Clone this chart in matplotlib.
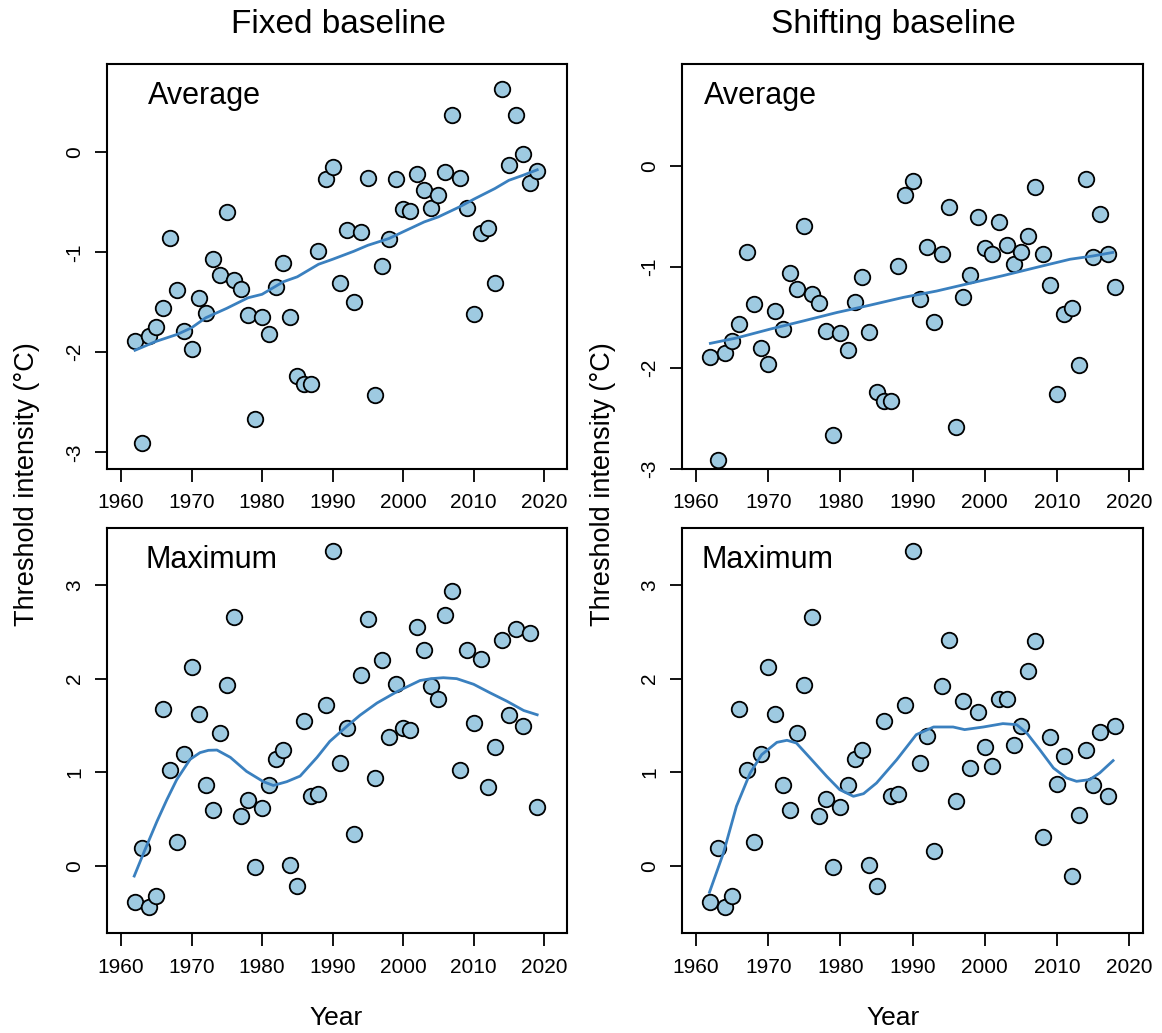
import matplotlib
matplotlib.use("Agg")
import matplotlib.pyplot as plt
import numpy as np

plt.rcParams['font.family'] = ['Liberation Sans', 'DejaVu Sans']

# ---------------- data ----------------
years_fixed = list(range(1962, 2020))      # 1962..2019
years_shift = list(range(1962, 2019))      # 1962..2018

avg_fixed = [-1.89, -2.91, -1.84, -1.75, -1.555, -0.86, -1.38, -1.79, -1.97, -1.455,
             -1.61, -1.07, -1.23, -0.60, -1.28, -1.37, -1.63, -2.67, -1.645, -1.82,
             -1.345, -1.105, -1.645, -2.235, -2.32, -2.32, -0.985, -0.27, -0.15, -1.31,
             -0.78, -1.50, -0.80, -0.256, -2.43, -1.14, -0.87, -0.27, -0.57, -0.586,
             -0.22, -0.38, -0.553, -0.43, -0.20, 0.37, -0.256, -0.553, -1.62, -0.81,
             -0.756, -1.31, 0.63, -0.13, 0.37, -0.013, -0.31, -0.186]

avg_shift = [-1.894, -2.915, -1.854, -1.734, -1.561, -0.852, -1.368, -1.804, -1.96, -1.438,
             -1.61, -1.06, -1.218, -0.592, -1.268, -1.354, -1.634, -2.669, -1.65, -1.824,
             -1.351, -1.095, -1.647, -2.236, -2.326, -2.326, -0.988, -0.28, -0.14, -1.318,
             -0.802, -1.544, -0.869, -0.403, -2.586, -1.301, -1.078, -0.506, -0.812, -0.872,
             -0.552, -0.779, -0.972, -0.852, -0.696, -0.206, -0.869, -1.178, -2.26, -1.461,
             -1.404, -1.977, -0.123, -0.902, -0.469, -0.869, -1.195]

max_fixed = [-0.384, 0.192, -0.441, -0.324, 1.676, 1.028, 0.253, 1.196, 2.121, 1.623,
             0.861, 0.601, 1.42, 1.936, 2.658, 0.53, 0.708, -0.011, 0.619, 0.868,
             1.142, 1.235, 0.007, -0.217, 1.544, 0.751, 0.772, 1.715, 3.359, 1.10,
             1.473, 0.345, 2.043, 2.637, 0.936, 2.196, 1.377, 1.943, 1.473, 1.456,
             2.548, 2.31, 1.918, 1.786, 2.676, 2.94, 1.028, 2.31, 1.527, 2.214,
             0.843, 1.267, 2.416, 1.609, 2.53, 1.491, 2.488, 0.626]

max_shift = [-0.381, 0.192, -0.441, -0.324, 1.676, 1.028, 0.253, 1.196, 2.121, 1.623,
             0.861, 0.601, 1.42, 1.936, 2.658, 0.53, 0.719, -0.011, 0.626, 0.861,
             1.142, 1.235, 0.007, -0.217, 1.544, 0.751, 0.772, 1.715, 3.359, 1.10,
             1.384, 0.157, 1.918, 2.416, 0.698, 1.765, 1.046, 1.641, 1.267, 1.064,
             1.786, 1.786, 1.288, 1.491, 2.085, 2.399, 0.306, 1.377, 0.879, 1.178,
             -0.103, 0.548, 1.235, 0.861, 1.431, 0.751, 1.491]

# smoothed trend lines
trend_avg_fixed_x = [1961.8, 1965, 1968, 1970, 1972, 1975, 1978, 1980, 1983, 1985, 1988,
                     1990, 1993, 1995, 1998, 2000, 2003, 2005, 2008, 2010, 2013, 2015,
                     2017, 2019.2]
trend_avg_fixed_y = [-1.985, -1.89, -1.82, -1.755, -1.655, -1.56, -1.455, -1.42, -1.295,
                     -1.245, -1.12, -1.07, -0.99, -0.93, -0.862, -0.795, -0.696, -0.646,
                     -0.546, -0.47, -0.363, -0.28, -0.23, -0.17]

trend_avg_shift_x = [1961.8, 1965.6, 1970.2, 1974.9, 1979.5, 1984.1, 1988.7, 1993.3,
                     1997.9, 2002.5, 2007.2, 2011.8, 2015.0, 2017.9]
trend_avg_shift_y = [-1.76, -1.704, -1.617, -1.534, -1.451, -1.378, -1.301, -1.238,
                     -1.161, -1.085, -1.002, -0.922, -0.889, -0.852]

trend_max_fixed_x = [1961.8, 1963.4, 1965.1, 1966.5, 1967.9, 1969.8, 1971.2, 1972.4,
                     1973.6, 1975.5, 1977.8, 1980.2, 1981.6, 1983.5, 1985.4, 1987.8,
                     1989.6, 1992.0, 1993.9, 1996.3, 1999.1, 2002.4, 2004.0, 2005.7,
                     2007.6, 2010.0, 2012.3, 2014.7, 2017.1, 2019.2]
trend_max_fixed_y = [-0.121, 0.174, 0.477, 0.708, 0.922, 1.139, 1.21, 1.235, 1.238,
                     1.16, 1.01, 0.90, 0.86, 0.90, 0.96, 1.16, 1.33, 1.49, 1.61, 1.74,
                     1.86, 1.98, 2.00, 2.01, 2.00, 1.94, 1.85, 1.76, 1.66, 1.61]

trend_max_shift_x = [1961.8, 1963.8, 1965.6, 1967.5, 1969.1, 1971.2, 1972.6, 1973.9,
                     1975.8, 1978.1, 1979.9, 1981.8, 1983.2, 1985.0, 1987.8, 1990.5,
                     1992.9, 1995.6, 1997.2, 1999.8, 2002.5, 2004.4, 2005.8, 2007.6,
                     2009.5, 2011.3, 2012.7, 2014.5, 2015.9, 2017.9]
trend_max_shift_y = [-0.295, 0.139, 0.637, 0.993, 1.189, 1.320, 1.342, 1.313, 1.153,
                     0.957, 0.815, 0.744, 0.772, 0.886, 1.135, 1.402, 1.484, 1.484,
                     1.456, 1.484, 1.520, 1.509, 1.420, 1.242, 1.046, 0.940, 0.904,
                     0.922, 0.993, 1.135]

x_ticks = [1960, 1970, 1980, 1990, 2000, 2010, 2020]
y_ticks_avg = [-3, -2, -1, 0]
y_ticks_max = [0, 1, 2, 3]

col_titles = ["Fixed baseline", "Shifting baseline"]
row_labels = ["Average", "Maximum"]
ylabel = "Threshold intensity (\u00b0C)"
xlabel = "Year"

# ---------------- figure ----------------
W, H = 1162, 1033
fig = plt.figure(figsize=(W / 100, H / 100), dpi=100)

def px_axes(l, t, r, b):
    return fig.add_axes([l / W, 1 - b / H, (r - l) / W, (b - t) / H])

POINT_FC = "#9ecae1"
LINE_C = "#3a80bf"

panels = [
    ((106.7, 64.0, 566.7, 468.5), (1957.97, 2023.2), (-3.162, 0.883),
     years_fixed, avg_fixed, trend_avg_fixed_x, trend_avg_fixed_y, y_ticks_avg),
    ((681.7, 64.0, 1143.0, 468.5), (1958.02, 2021.9), (-2.986, 1.017),
     years_shift, avg_shift, trend_avg_shift_x, trend_avg_shift_y, y_ticks_avg),
    ((106.7, 528.3, 566.7, 932.7), (1957.97, 2023.2), (-0.712, 3.605),
     years_fixed, max_fixed, trend_max_fixed_x, trend_max_fixed_y, y_ticks_max),
    ((681.7, 528.3, 1143.0, 932.7), (1958.02, 2021.9), (-0.712, 3.605),
     years_shift, max_shift, trend_max_shift_x, trend_max_shift_y, y_ticks_max),
]

for box, xl, yl, xs, ys, tx, ty, yt in panels:
    ax = px_axes(*box)
    ax.scatter(xs, ys, s=125, facecolor=POINT_FC, edgecolor="black",
               linewidth=1.3, zorder=2)
    ax.plot(tx, ty, color=LINE_C, lw=2.0, zorder=3, solid_joinstyle="round",
            solid_capstyle="butt")
    ax.set_xlim(*xl)
    ax.set_ylim(*yl)
    ax.set_xticks(x_ticks)
    ax.set_yticks(yt)
    ax.set_yticklabels([str(v) for v in yt], rotation=90, va="center")
    for sp in ax.spines.values():
        sp.set_linewidth(1.5)
        sp.set_color("black")
    ax.tick_params(axis="both", length=9, width=1.3, labelsize=15,
                   colors="black")
    ax.tick_params(axis="x", pad=9)
    ax.tick_params(axis="y", pad=7)

# row labels inside panels
fig.text(148.3 / W, 1 - 104.3 / H, row_labels[0], fontsize=22, va="baseline", ha="left")
fig.text(704.3 / W, 1 - 104.3 / H, row_labels[0], fontsize=22, va="baseline", ha="left")
fig.text(146.0 / W, 1 - 568.3 / H, row_labels[1], fontsize=22, va="baseline", ha="left")
fig.text(701.7 / W, 1 - 568.3 / H, row_labels[1], fontsize=22, va="baseline", ha="left")

# column titles
fig.text(338 / W, 1 - 24.7 / H, col_titles[0], fontsize=24, ha="center", va="center")
fig.text(893 / W, 1 - 24.7 / H, col_titles[1], fontsize=24, ha="center", va="center")

# y labels
fig.text(27 / W, 1 - 484 / H, ylabel, fontsize=19.5, rotation=90, ha="center", va="center")
fig.text(603 / W, 1 - 484 / H, ylabel, fontsize=19.5, rotation=90, ha="center", va="center")

# x labels
fig.text(336 / W, 1 - 1017.7 / H, xlabel, fontsize=19, ha="center", va="center")
fig.text(893 / W, 1 - 1017.7 / H, xlabel, fontsize=19, ha="center", va="center")

fig.savefig("out.png", dpi=100)
